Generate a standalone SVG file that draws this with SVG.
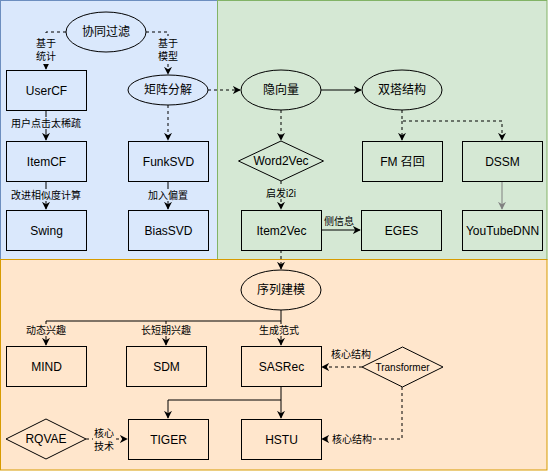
<svg xmlns="http://www.w3.org/2000/svg" width="548" height="471" viewBox="0 0 548 471">
<defs>
<style>
.n{fill:none;stroke:#000;stroke-width:1}
.t{font-family:"Liberation Sans","Noto Sans CJK SC",sans-serif;font-size:12px;fill:#000;text-anchor:middle;dominant-baseline:central}
.s{font-size:10px}
.l{font-family:"Liberation Sans","Noto Sans CJK SC",sans-serif;font-size:10px;fill:#000;text-anchor:middle;dominant-baseline:central}
.e{fill:none;stroke:#000;stroke-width:1}
.d{stroke-dasharray:3 3}
</style>
<marker id="a" viewBox="0 0 10 10" refX="9" refY="5" markerWidth="8" markerHeight="8" markerUnits="userSpaceOnUse" orient="auto">
<path d="M0,0 L10,5 L0,10 L3,5 z" fill="#000"/>
</marker>
<marker id="g" viewBox="0 0 10 10" refX="9" refY="5" markerWidth="8" markerHeight="8" markerUnits="userSpaceOnUse" orient="auto">
<path d="M0,0 L10,5 L0,10 L3,5 z" fill="#808080"/>
</marker>
</defs>
<g id="panels">
<rect x="0.5" y="0.5" width="217" height="259" fill="#dae8fc" stroke="#6c8ebf"/>
<rect x="217.5" y="0.5" width="329.5" height="259" fill="#d5e8d4" stroke="#82b366"/>
<rect x="0.5" y="259.5" width="546.5" height="210.5" fill="#ffe6cc" stroke="#d79b00"/>
</g>
<g id="connectors">
<path class="e d" d="M66,32 H46 V69" marker-end="url(#a)"/>
<path class="e d" d="M146,32 H168 V74" marker-end="url(#a)"/>
<path class="e" d="M46,110 V140" marker-end="url(#a)"/>
<path class="e" d="M46,181 V209" marker-end="url(#a)"/>
<path class="e d" d="M168,105 V140" marker-end="url(#a)"/>
<path class="e" d="M168,181 V209" marker-end="url(#a)"/>
<path class="e d" d="M208,90 H240" marker-end="url(#a)"/>
<path class="e" d="M321,90 H361" marker-end="url(#a)"/>
<path class="e d" d="M281,110 V140" marker-end="url(#a)"/>
<path class="e d" d="M402,110 V121 H502 V140" marker-end="url(#a)"/>
<path class="e d" d="M402,121 V140" marker-end="url(#a)"/>
<path fill="none" stroke="#808080" d="M502,181 V209" marker-end="url(#g)"/>
<path class="e d" d="M281,181 V209" marker-end="url(#a)"/>
<path class="e" d="M321,230 H360" marker-end="url(#a)"/>
<path class="e d" d="M281,250 V269" marker-end="url(#a)"/>
<path class="e" d="M281,310 V345" marker-end="url(#a)"/>
<path class="e" d="M281,321 H46 V345" marker-end="url(#a)"/>
<path class="e" d="M166,321 V345" marker-end="url(#a)"/>
<path class="e d" d="M362,367 H322" marker-end="url(#a)"/>
<path class="e d" d="M402,387 V439 H322" marker-end="url(#a)"/>
<path class="e" d="M281,386 V418" marker-end="url(#a)"/>
<path class="e" d="M281,400 H168 V418" marker-end="url(#a)"/>
<path class="e d" d="M86,439 H127" marker-end="url(#a)"/>
<g id="edge-labels">
<rect x="33" y="36" width="26" height="28" fill="#dae8fc"/>
<text class="l" x="46" y="43">基于</text>
<text class="l" x="46" y="56">统计</text>
<rect x="155" y="36" width="26" height="28" fill="#dae8fc"/>
<text class="l" x="168" y="43">基于</text>
<text class="l" x="168" y="56">模型</text>
<rect x="11" y="117" width="70" height="12" fill="#dae8fc"/>
<text class="l" x="46" y="123">用户点击太稀疏</text>
<rect x="11" y="189" width="70" height="12" fill="#dae8fc"/>
<text class="l" x="46" y="195">改进相似度计算</text>
<rect x="148" y="189" width="40" height="12" fill="#dae8fc"/>
<text class="l" x="168" y="195">加入偏置</text>
<rect x="266" y="187" width="30" height="12" fill="#d5e8d4"/>
<text class="l" x="281" y="193">启发i2i</text>
<text class="l" x="339" y="221">侧信息</text>
<rect x="26" y="324" width="40" height="12" fill="#ffe6cc"/>
<text class="l" x="46" y="330">动态兴趣</text>
<rect x="141" y="324" width="50" height="12" fill="#ffe6cc"/>
<text class="l" x="166" y="330">长短期兴趣</text>
<rect x="259" y="324" width="40" height="12" fill="#ffe6cc"/>
<text class="l" x="279" y="330">生成范式</text>
<text class="l" x="351" y="354">核心结构</text>
<rect x="331" y="433" width="42" height="12" fill="#ffe6cc"/>
<text class="l" x="352" y="439">核心结构</text>
<rect x="93" y="426" width="22" height="26" fill="#ffe6cc"/>
<text class="l" x="104" y="433">核心</text>
<text class="l" x="104" y="446">技术</text>
</g>
</g>
<g id="n-cf"><ellipse class="n" cx="106" cy="32" rx="40" ry="20"/><text class="t" x="106" y="32">协同过滤</text></g>
<g id="n-usercf"><rect class="n" x="6.5" y="70.5" width="80" height="40"/><text class="t" x="46.5" y="90.5">UserCF</text></g>
<g id="n-itemcf"><rect class="n" x="6.5" y="141.5" width="80" height="40"/><text class="t" x="46.5" y="161.5">ItemCF</text></g>
<g id="n-swing"><rect class="n" x="6.5" y="210.5" width="80" height="40"/><text class="t" x="46.5" y="230.5">Swing</text></g>
<g id="n-mf"><ellipse class="n" cx="168" cy="90" rx="40" ry="15"/><text class="t" x="168" y="90">矩阵分解</text></g>
<g id="n-funksvd"><rect class="n" x="128.5" y="141.5" width="80" height="40"/><text class="t" x="168.5" y="161.5">FunkSVD</text></g>
<g id="n-biassvd"><rect class="n" x="128.5" y="210.5" width="80" height="40"/><text class="t" x="168.5" y="230.5">BiasSVD</text></g>
<g id="n-latent"><ellipse class="n" cx="281" cy="90" rx="40" ry="20"/><text class="t" x="281" y="90">隐向量</text></g>
<g id="n-twotower"><ellipse class="n" cx="402" cy="90" rx="40" ry="20"/><text class="t" x="402" y="90">双塔结构</text></g>
<g id="n-word2vec"><polygon class="n" points="238.5,161 281,141 323.5,161 281,181"/><text class="t" x="281" y="161">Word2Vec</text></g>
<g id="n-item2vec"><rect class="n" x="241.5" y="210.5" width="80" height="40"/><text class="t" x="281.5" y="230.5">Item2Vec</text></g>
<g id="n-eges"><rect class="n" x="361.5" y="210.5" width="80" height="40"/><text class="t" x="401.5" y="230.5">EGES</text></g>
<g id="n-fm"><rect class="n" x="362.5" y="141.5" width="80" height="40"/><text class="t" x="402.5" y="161.5">FM 召回</text></g>
<g id="n-dssm"><rect class="n" x="462.5" y="141.5" width="80" height="40"/><text class="t" x="502.5" y="161.5">DSSM</text></g>
<g id="n-youtubednn"><rect class="n" x="462.5" y="210.5" width="80" height="40"/><text class="t" x="502.5" y="230.5">YouTubeDNN</text></g>
<g id="n-seq"><ellipse class="n" cx="281" cy="290" rx="40" ry="20"/><text class="t" x="281" y="290">序列建模</text></g>
<g id="n-mind"><rect class="n" x="6.5" y="346.5" width="80" height="40"/><text class="t" x="46.5" y="366.5">MIND</text></g>
<g id="n-sdm"><rect class="n" x="126.5" y="346.5" width="80" height="40"/><text class="t" x="166.5" y="366.5">SDM</text></g>
<g id="n-sasrec"><rect class="n" x="241.5" y="346.5" width="80" height="40"/><text class="t" x="281.5" y="366.5">SASRec</text></g>
<g id="n-transformer"><polygon class="n" points="362,367 402.5,347 443,367 402.5,387"/><text class="t s" x="402.5" y="367">Transformer</text></g>
<g id="n-rqvae"><polygon class="n" points="6,439 46,419 86,439 46,459"/><text class="t" x="46" y="439">RQVAE</text></g>
<g id="n-tiger"><rect class="n" x="128.5" y="419.5" width="80" height="40"/><text class="t" x="168.5" y="439.5">TIGER</text></g>
<g id="n-hstu"><rect class="n" x="241.5" y="419.5" width="80" height="40"/><text class="t" x="281.5" y="439.5">HSTU</text></g>
</svg>
